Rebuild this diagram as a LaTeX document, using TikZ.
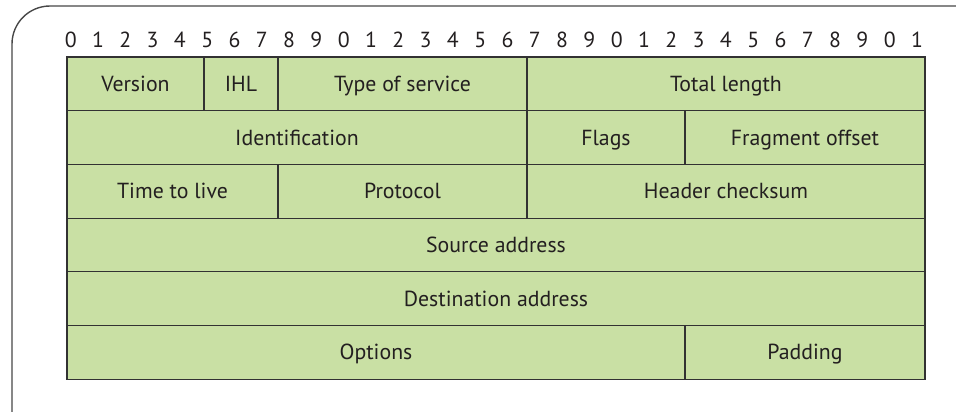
\documentclass[tikz,border=0pt]{standalone}
\usepackage{fontspec}
\setmainfont{PT Sans}
\definecolor{fieldfill}{RGB}{201,224,164}
\definecolor{lineclr}{RGB}{50,50,50}
\definecolor{txtclr}{RGB}{35,31,32}
\begin{document}
\begin{tikzpicture}[x=1pt,y=-1pt,
  field/.style={draw=lineclr, line width=1.2pt, fill=fieldfill, text=txtclr,
    minimum height=53.7pt, inner sep=0pt, text height=15pt, text depth=0pt,
    font=\fontsize{21.8}{25}\selectfont},
  bitnum/.style={text=txtclr, inner sep=0pt, text height=15pt, text depth=0pt,
    font=\fontsize{21.8}{25}\selectfont},
  frame/.style={draw=lineclr!90, line width=1.4pt}]
\useasboundingbox (0,0) rectangle (956,412);
\draw[frame, rounded corners=38pt] (960,6) -- (12,6) -- (12,416);
% bit numbers
\foreach \i in {0,...,31}{
  \pgfmathtruncatemacro{\d}{mod(\i,10)}
  \node[bitnum] (b\i) at ({70.7+27.3*\i},40) {\d};
}
% row 1
\node[field, minimum width=137pt] (ver) at (135.5,83.85) {Version};
\node[field, minimum width=74pt] (ihl) at (241,83.85) {IHL};
\node[field, minimum width=249pt] (tos) at (402.5,83.85) {Type of service};
\node[field, minimum width=398pt] (tlen) at (726,83.85) {Total length};
% row 2
\node[field, minimum width=460pt] (ident) at (297,137.55) {Identification};
\node[field, minimum width=158pt] (flags) at (606,137.55) {Flags};
\node[field, minimum width=240pt] (frag) at (805,137.55) {Fragment offset};
% row 3
\node[field, minimum width=211pt] (ttl) at (172.5,191.25) {Time to live};
\node[field, minimum width=249pt] (proto) at (402.5,191.25) {Protocol};
\node[field, minimum width=398pt] (hcs) at (726,191.25) {Header checksum};
% row 4, 5
\node[field, minimum width=858pt] (src) at (496,244.95) {Source address};
\node[field, minimum width=858pt] (dst) at (496,298.65) {Destination address};
% row 6
\node[field, minimum width=618pt] (opt) at (376,352.35) {Options};
\node[field, minimum width=240pt] (pad) at (805,352.35) {Padding};
\end{tikzpicture}
\end{document}
